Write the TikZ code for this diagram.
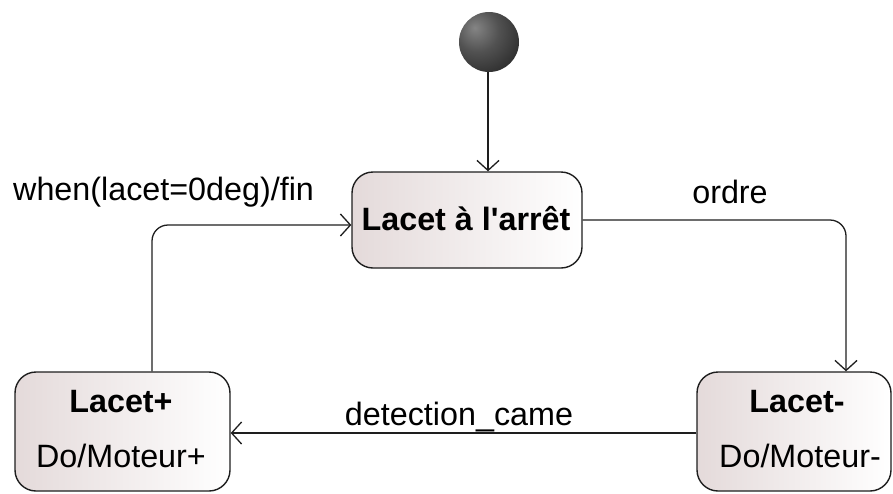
\documentclass[tikz,border=0pt]{standalone}
\usepackage{fontspec}
\setmainfont{Liberation Sans}
\usetikzlibrary{arrows.meta}
\definecolor{boxpink}{RGB}{228,218,218}
\definecolor{edgegray}{RGB}{30,30,30}
\pgfdeclareradialshading{darkball}{\pgfpoint{-12bp}{12bp}}{%
  color(0bp)=(black!48); color(18bp)=(black!68); color(34bp)=(black!80);
  color(50bp)=(black!86); color(100bp)=(black!86)}
\begin{document}
\begin{tikzpicture}[x=1pt,y=-1pt,
  statebox/.style={draw=edgegray, line width=1.4pt, rounded corners=21pt,
    left color=boxpink, right color=white, inner sep=0pt},
  tr/.style={draw=edgegray, line width=1.3pt, rounded corners=16pt,
    -{Straight Barb[length=10pt,width=22pt,line width=1.3pt]}},
  lbl/.style={font=\fontsize{32.3}{38}\selectfont, inner sep=0pt, anchor=base},
  blbl/.style={lbl, font=\fontsize{32.3}{38}\selectfont\bfseries},
]
\useasboundingbox (0,0) rectangle (893,493);

% initial pseudo-state
\node[circle, minimum size=60pt, inner sep=0pt, shading=darkball] (init) at (489,42) {};

% states
\node[statebox, minimum width=230pt, minimum height=96pt] (mid) at (467,220) {};
\node[statebox, minimum width=215pt, minimum height=119pt] (plus) at (122.5,431.5) {};
\node[statebox, minimum width=194pt, minimum height=119pt] (minus) at (794,431.5) {};

% state texts
\node[blbl] (tmid) at (466,230) {Lacet à l\textquotesingle arrêt};
\node[blbl] (tplus1) at (121,412) {Lacet+};
\node[lbl] (tplus2) at (121,467) {Do/Moteur+};
\node[blbl] (tminus1) at (797,412) {Lacet-};
\node[lbl] (tminus2) at (800,467) {Do/Moteur-};

% transitions
\draw[tr] ([xshift=-1pt]init.south) -- ([xshift=-1pt]init.south |- mid.north);
\draw[tr] (mid.east) -| ([xshift=52pt]minus.north);
\draw[tr] ([yshift=-1.5pt]minus.west) -- ([yshift=-1.5pt]plus.east);
\draw[tr] ([xshift=29.5pt]plus.north) |- ([yshift=-5pt]mid.west);

% transition labels
\node[lbl, anchor=base west] (lwhen) at (13,200) {when(lacet=0deg)/fin};
\node[lbl] (lordre) at (730,203) {ordre};
\node[lbl] (ldet) at (459,425) {detection\_came};
\end{tikzpicture}
\end{document}
